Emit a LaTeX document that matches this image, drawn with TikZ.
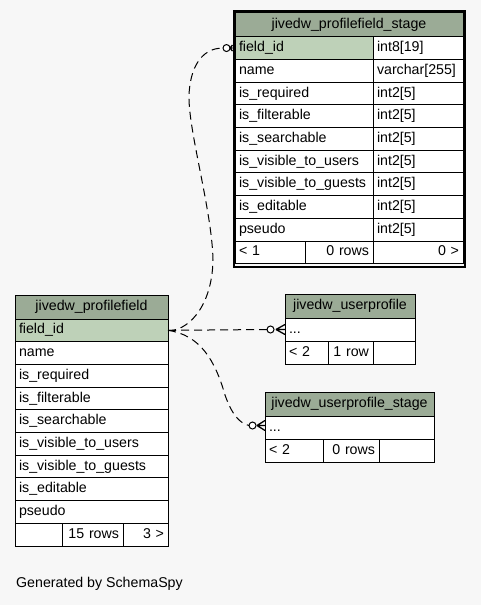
\documentclass[tikz,border=0pt]{standalone}
\usepackage{fontspec}
\setmainfont{Liberation Sans}
\usetikzlibrary{calc}
\definecolor{bgc}{HTML}{F7F7F7}
\definecolor{hdr}{HTML}{9BAB96}
\definecolor{pkc}{HTML}{BED1B8}
\tikzset{
  cellbase/.style={draw=black, line width=1bp, rectangle, inner xsep=4bp, inner ysep=0pt, outer sep=0pt,
    text height=10.2bp, text depth=3bp, font=\fontsize{14.2bp}{17bp}\selectfont},
  conn/.style={draw=black, line width=1bp, dash pattern=on 8bp off 5bp},
  crowtip/.style={draw=black, line width=1.3bp, solid},
  ring/.style={draw=black, line width=1bp, fill=white, solid},
  caption/.style={inner sep=0pt, font=\fontsize{14.2bp}{17bp}\selectfont},
}
\newcommand{\tcell}[8]{%
  \pgfmathsetmacro\cellw{(#4)-(#2)}%
  \pgfmathsetmacro\cellh{(#5)-(#3)}%
  \pgfmathsetmacro\celltw{\cellw-8}%
  \node[cellbase, fill=#6, align=#7, minimum width=\cellw bp, minimum height=\cellh bp,
        text width=\celltw bp, anchor=north west] (#1) at (#2,#3) {#8};}
\begin{document}
\begin{tikzpicture}[x=1bp, y=-1bp]
\fill[bgc] (0,0) rectangle (481,605);
\useasboundingbox (0,0) rectangle (481,605);

% ---------- jivedw_profilefield_stage ----------
\tcell{sh}{235}{13}{463}{36.7}{hdr}{center}{jivedw\_profilefield\_stage}
\tcell{sn1}{235}{36.7}{373}{59.4}{pkc}{left}{field\_id}
\tcell{st1}{373}{36.7}{463}{59.4}{white}{left}{int8[19]}
\foreach \nm/\ty [count=\k from 2] in {name/{varchar[255]}, is\_required/{int2[5]}, is\_filterable/{int2[5]},
   is\_searchable/{int2[5]}, is\_visible\_to\_users/{int2[5]}, is\_visible\_to\_guests/{int2[5]},
   is\_editable/{int2[5]}, pseudo/{int2[5]}} {
  \pgfmathsetmacro\ya{36.7+22.7*(\k-1)}
  \pgfmathsetmacro\yb{\ya+22.7}
  \tcell{sn\k}{235}{\ya}{373}{\yb}{white}{left}{\nm}
  \tcell{st\k}{373}{\ya}{463}{\yb}{white}{left}{\ty}
}
\tcell{sfa}{235}{241}{305}{263.7}{white}{left}{< 1}
\tcell{sfb}{305}{241}{373}{263.7}{white}{right}{0 rows}
\tcell{sfc}{373}{241}{463}{263.7}{white}{right}{0 >}
\draw[line width=2bp] (233.5,11.5) rectangle (464.5,266.5);

% ---------- jivedw_profilefield ----------
\tcell{ph}{15}{295}{168}{319}{hdr}{center}{jivedw\_profilefield}
\tcell{pf1}{15}{319}{168}{341.7}{pkc}{left}{field\_id}
\foreach \nm [count=\k from 2] in {name, is\_required, is\_filterable, is\_searchable,
   is\_visible\_to\_users, is\_visible\_to\_guests, is\_editable, pseudo} {
  \pgfmathsetmacro\ya{319+22.7*(\k-1)}
  \pgfmathsetmacro\yb{\ya+22.7}
  \tcell{pf\k}{15}{\ya}{168}{\yb}{white}{left}{\nm}
}
\tcell{pfa}{15}{523.3}{62}{546}{white}{left}{}
\tcell{pfb}{62}{523.3}{123}{546}{white}{right}{15 rows}
\tcell{pfc}{123}{523.3}{168}{546}{white}{right}{3 >}

% ---------- jivedw_userprofile ----------
\tcell{uh}{285}{294}{415}{318}{hdr}{center}{jivedw\_userprofile}
\tcell{udots}{285}{318}{415}{341}{white}{left}{...}
\tcell{ufa}{285}{341}{328}{364}{white}{left}{< 2}
\tcell{ufb}{328}{341}{373}{364}{white}{right}{1 row}
\tcell{ufc}{373}{341}{415}{364}{white}{left}{}

% ---------- jivedw_userprofile_stage ----------
\tcell{wh}{265}{392}{434}{416}{hdr}{center}{jivedw\_userprofile\_stage}
\tcell{wdots}{265}{416}{434}{439}{white}{left}{...}
\tcell{wfa}{265}{439}{323}{462}{white}{left}{< 2}
\tcell{wfb}{323}{439}{379}{462}{white}{right}{0 rows}
\tcell{wfc}{379}{439}{434}{462}{white}{left}{}

% ---------- connectors ----------
% to jivedw_userprofile
\coordinate (u1) at ($(udots.west)+(-18,0)$);
\coordinate (uc) at ($(udots.west)+(-14.5,0)$);
\coordinate (ut) at ($(udots.west)+(-9,0)$);
\draw[conn] (pf1.east) -- (u1);
\draw[crowtip] (ut) -- ($(udots.west)+(0,-5)$) (ut) -- (udots.west) (ut) -- ($(udots.west)+(0,5)$);
\draw[ring] (uc) circle (3.5bp);

% to jivedw_userprofile_stage
\coordinate (wa) at ($(wdots.west)+(0,-2)$);
\coordinate (w1) at ($(wa)+(-16,0)$);
\coordinate (wc) at ($(wa)+(-12.5,0)$);
\coordinate (wt) at ($(wa)+(-8,0)$);
\draw[conn] (pf1.east) .. controls (200,335) and (215,360) .. (225,395)
   .. controls (232,415) and (240,423.5) .. (w1);
\draw[crowtip] (wt) -- ($(wa)+(0,-5)$) (wt) -- (wa) (wt) -- ($(wa)+(0,5)$);
\draw[ring] (wc) circle (3.5bp);

% to jivedw_profilefield_stage
\coordinate (sa) at ($(sn1.west)+(-2.5,0)$);
\coordinate (s1) at ($(sn1.west)+(-12,0)$);
\coordinate (sc) at ($(sn1.west)+(-8.5,0)$);
\coordinate (st) at ($(sn1.west)+(-5,0)$);
\draw[conn] (pf1.east) .. controls (185,332) and (212,310) .. (213,260)
   .. controls (212,210) and (188,130) .. (189,95)
   .. controls (190,70) and (200,48) .. (s1);
\draw[crowtip] (st) -- ($(sa)+(0,-3)$) (st) -- (sa) (st) -- ($(sa)+(0,3)$);
\draw[ring] (sc) circle (3.5bp);

% ---------- caption ----------
\node[caption, anchor=base west] (gen) at (16,587) {Generated by SchemaSpy};
\end{tikzpicture}
\end{document}
